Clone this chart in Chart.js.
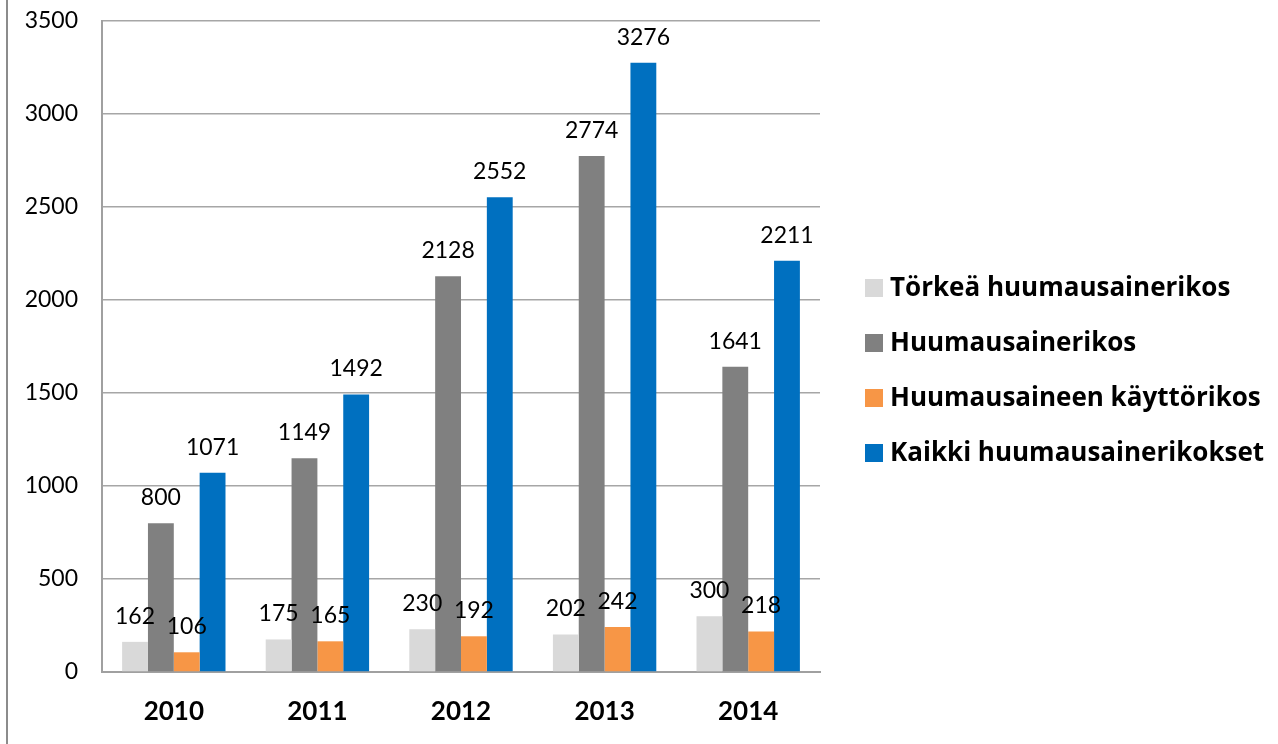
<!DOCTYPE html>
<html>
<head>
<meta charset="utf-8">
<script src="https://cdn.jsdelivr.net/npm/chart.js@4"></script>
<style>
  body { margin: 0; background: #fff; }
  #wrap { position: relative; width: 1278px; height: 744px; }
  #edge { position: absolute; left: 6px; top: 0; width: 2px; height: 744px; background: #8c8c8c; }
  canvas { position: absolute; left: 0; top: 0; }
</style>
</head>
<body>
<div id="wrap">
  <canvas id="chart" width="1278" height="744"></canvas>
  <div id="edge"></div>
</div>
<script>
// data
var years = ['2010', '2011', '2012', '2013', '2014'];
var seriesNames = ['Törkeä huumausainerikos', 'Huumausainerikos', 'Huumausaineen käyttörikos', 'Kaikki huumausainerikokset'];
var torkea = [162, 175, 230, 202, 300];
var huumausainerikos = [800, 1149, 2128, 2774, 1641];
var kayttorikos = [106, 165, 192, 242, 218];
var kaikki = [1071, 1492, 2552, 3276, 2211];
var colors = ['#d9d9d9', '#808080', '#f79646', '#0070c0'];
var yTicks = [0, 500, 1000, 1500, 2000, 2500, 3000, 3500];

var fontName = 'Lato, "Open Sans", sans-serif';
var legendFont = '"Open Sans", Lato, sans-serif';

// numbers above the bars
var valueLabels = {
  id: 'valueLabels',
  afterDatasetsDraw: function (chart) {
    var ctx = chart.ctx;
    ctx.save();
    ctx.font = '23px ' + fontName;
    ctx.fillStyle = '#000';
    ctx.textAlign = 'center';
    ctx.textBaseline = 'alphabetic';
    chart.data.datasets.forEach(function (ds, i) {
      var meta = chart.getDatasetMeta(i);
      meta.data.forEach(function (bar, j) {
        ctx.fillText(ds.data[j], bar.x, bar.y - 18);
      });
    });
    ctx.restore();
  }
};

// legend on the right
var sideLegend = {
  id: 'sideLegend',
  afterDraw: function (chart) {
    var ctx = chart.ctx;
    ctx.save();
    ctx.font = 'bold 26px ' + legendFont;
    ctx.textBaseline = 'middle';
    ctx.textAlign = 'left';
    chart.data.datasets.forEach(function (ds, i) {
      var cy = 288 + i * 55;
      ctx.fillStyle = ds.backgroundColor;
      ctx.fillRect(865, cy - 9, 18, 18);
      ctx.fillStyle = '#000';
      ctx.fillText(ds.label, 890, cy + 1);
    });
    ctx.restore();
  }
};

var allData = [torkea, huumausainerikos, kayttorikos, kaikki];

var ctx = document.getElementById('chart').getContext('2d');
var myChart = new Chart(ctx, {
  type: 'bar',
  data: {
    labels: years,
    datasets: allData.map(function (d, i) {
      return {
        label: seriesNames[i],
        data: d,
        backgroundColor: colors[i],
        borderWidth: 0
      };
    })
  },
  options: {
    responsive: false,
    animation: false,
    layout: { padding: { left: 10, right: 458, top: 21, bottom: 0 } },
    datasets: { bar: { categoryPercentage: 0.72, barPercentage: 1.0 } },
    plugins: {
      legend: { display: false },
      tooltip: { enabled: false }
    },
    scales: {
      x: {
        grid: { display: false, drawTicks: false },
        border: { display: true, color: '#a0a0a0', width: 2 },
        ticks: {
          color: '#000',
          padding: 24,
          font: { family: fontName, size: 26, weight: 'bold' }
        },
        afterFit: function (s) { s.height = 72; s.paddingLeft = 0; s.paddingRight = 0; }
      },
      y: {
        min: 0,
        max: 3500,
        afterBuildTicks: function (s) {
          s.ticks = yTicks.map(function (v) { return { value: v }; });
        },
        grid: { color: '#a6a6a6', lineWidth: 1.5, drawTicks: false },
        border: { display: true, color: '#a0a0a0', width: 2 },
        ticks: {
          color: '#000',
          padding: 24,
          font: { family: fontName, size: 23 },
          callback: function (v) { return String(v); }
        },
        afterFit: function (s) { s.width = 92; s.paddingTop = 0; s.paddingBottom = 0; }
      }
    }
  },
  plugins: [valueLabels, sideLegend]
});
</script>
</body>
</html>
